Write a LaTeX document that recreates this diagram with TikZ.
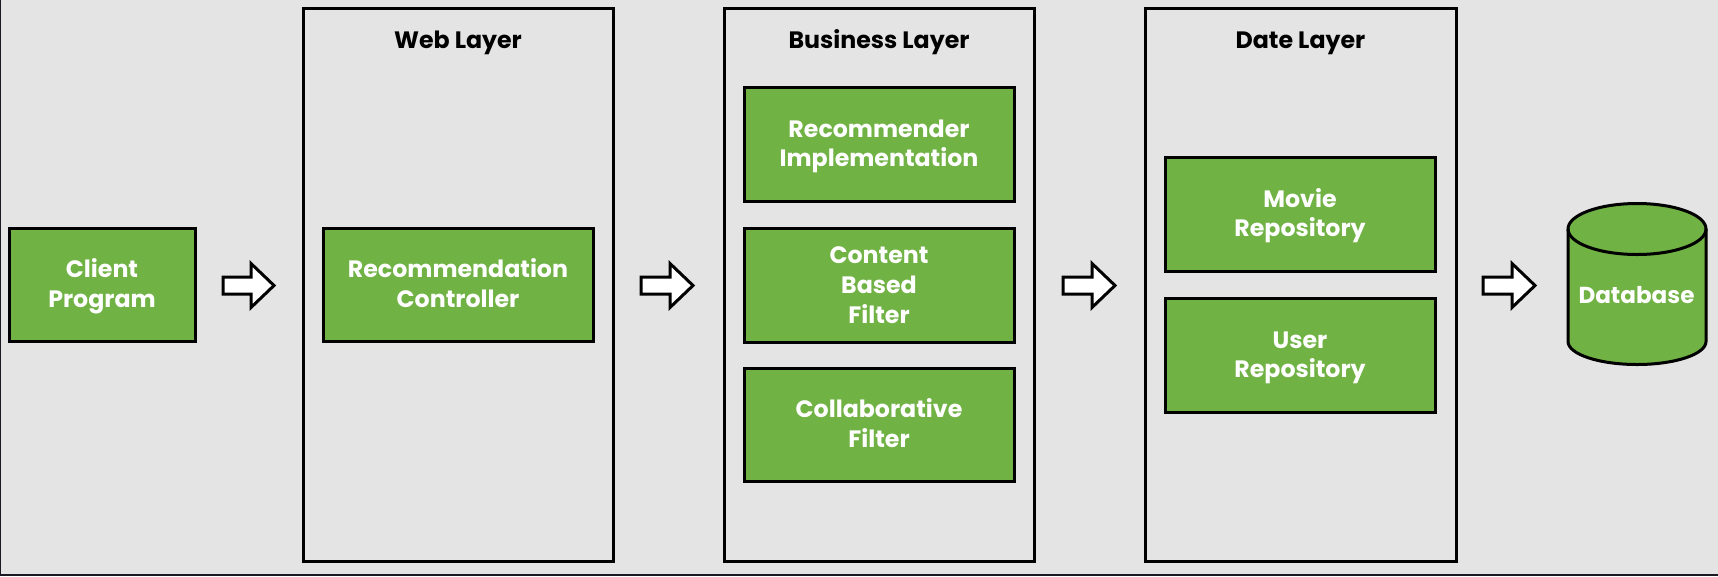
\documentclass[tikz,border=0pt]{standalone}
\usepackage{fontspec}
\setmainfont{Poppins}
\definecolor{bgc}{HTML}{E4E4E4}
\definecolor{grn}{HTML}{70B244}
\definecolor{edgec}{HTML}{1A1A22}
\newcommand{\lst}{\rule{0pt}{22.5pt}\rule[-5.9pt]{0pt}{5.9pt}}
\tikzset{
  x=1pt,y=-1pt,
  layerbox/.style={draw=black,line width=3pt,fill=none,rectangle,inner sep=0pt},
  greenbox/.style={draw=black,line width=3pt,fill=grn,rectangle,inner sep=0pt,align=center,text=white,
    font=\fontsize{23.7}{29.7}\selectfont\bfseries},
  layertitle/.style={text=black,inner sep=0pt,anchor=base,font=\fontsize{23.7}{29.7}\selectfont\bfseries},
  dbtext/.style={text=white,inner sep=0pt,anchor=base,font=\fontsize{23.1}{29.7}\selectfont\bfseries},
  blockarrow/.style={draw=black,line width=3pt,fill=white,miter limit=10},
}
\newcommand{\boxnode}[7]{% style,name,x1,y1,x2,y2,text
  \pgfmathsetmacro{\bw}{#5-#3}\pgfmathsetmacro{\bh}{#6-#4}
  \pgfmathsetmacro{\cx}{(#3+#5)/2}\pgfmathsetmacro{\cy}{(#4+#6)/2}
  \node[#1,minimum width=\bw pt,minimum height=\bh pt] (#2) at (\cx,\cy) {#7};}
\newcommand{\blockarr}[2]{% left x, right x
  \draw[blockarrow] (#1,277) -- (#2-23,277) -- (#2-23,263.5) -- (#2,285.5) -- (#2-23,307.5) -- (#2-23,294) -- (#1,294) -- cycle;}
\begin{document}
\begin{tikzpicture}
\useasboundingbox (0,0) rectangle (1718,576);
\fill[bgc] (0,0) rectangle (1718,576);
\fill[edgec] (0,0) rectangle (1.2,576);
\fill[edgec] (0,574) rectangle (1718,576);
\boxnode{layerbox}{web}{303}{8.5}{613}{561.5}{}
\boxnode{layerbox}{biz}{724}{8.5}{1034}{561.5}{}
\boxnode{layerbox}{dat}{1145}{8.5}{1456}{561.5}{}
\node[layertitle] (webt) at (458,48) {Web Layer};
\node[layertitle] (bizt) at (879,48) {Business Layer};
\node[layertitle] (datt) at (1300.5,48) {Date Layer};
\boxnode{greenbox}{client}{9}{228}{195}{341}{\lst Client\\\lst Program}
\boxnode{greenbox}{ctrl}{323}{228}{593}{341}{\lst Recommendation\\\lst Controller}
\boxnode{greenbox}{impl}{744}{87}{1014}{201}{\lst Recommender\\\lst Implementation}
\boxnode{greenbox}{cont}{744}{228}{1014}{342}{\lst Content\\\lst Based\\\lst Filter}
\boxnode{greenbox}{coll}{744}{368}{1014}{481}{\lst Collaborative\\\lst Filter}
\boxnode{greenbox}{movie}{1165}{157}{1435}{271}{\lst Movie\\\lst Repository}
\boxnode{greenbox}{user}{1165}{298}{1435}{412}{\lst User\\\lst Repository}
\blockarr{223}{274}
\blockarr{641}{693}
\blockarr{1063}{1115}
\blockarr{1483}{1535}
% database cylinder
\draw[draw=black,line width=3pt,fill=grn] (1568,229) -- (1568,341.5) arc[start angle=180,end angle=360,x radius=69,y radius=-23] -- (1706,229) arc[start angle=0,end angle=180,x radius=69,y radius=-25.5] -- cycle;
\draw[draw=black,line width=3pt] (1568,229) arc[start angle=180,end angle=360,x radius=69,y radius=-25.5];
\node[dbtext] (db) at (1636.5,303.7) {Database};
\end{tikzpicture}
\end{document}
